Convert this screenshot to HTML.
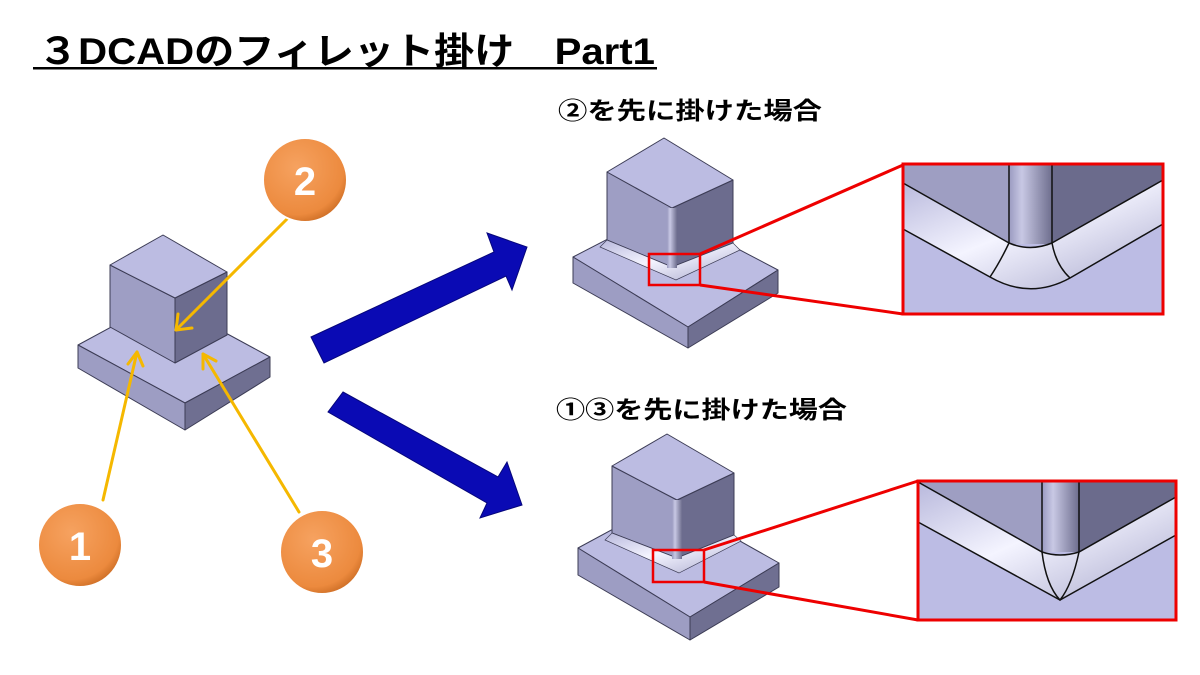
<!DOCTYPE html>
<html><head><meta charset="utf-8"><style>
html,body{margin:0;padding:0;background:#fff;width:1200px;height:675px;overflow:hidden}
svg{display:block}
text{font-family:"Liberation Sans","Noto Sans CJK JP",sans-serif;font-weight:bold}
</style></head><body>
<svg width="1200" height="675" viewBox="0 0 1200 675" xmlns="http://www.w3.org/2000/svg">
<defs>
<radialGradient id="og" cx="0.4" cy="0.35" r="0.7">
<stop offset="0" stop-color="#f6a260"/><stop offset="0.8" stop-color="#ec8a3e"/><stop offset="1" stop-color="#c96a22"/>
</radialGradient>
<linearGradient id="fil" x1="0" y1="0" x2="1" y2="1">
<stop offset="0" stop-color="#b8b8dc"/><stop offset="0.45" stop-color="#f4f4ff"/><stop offset="1" stop-color="#a8a8cc"/>
</linearGradient>
<linearGradient id="col" x1="0" y1="0" x2="1" y2="0">
<stop offset="0" stop-color="#9a9ac0"/><stop offset="0.3" stop-color="#c8c8e4"/><stop offset="1" stop-color="#6e6e8e"/>
</linearGradient>
</defs>

<!-- Title -->
<text x="38" y="64" font-size="37" textLength="617" lengthAdjust="spacingAndGlyphs" fill="#000">３DCADのフィレット掛け　Part1</text>
<rect x="33" y="67" width="624" height="2.5" fill="#000"/>

<text x="558" y="119" font-size="24" textLength="264" lengthAdjust="spacingAndGlyphs">②を先に掛けた場合</text>
<text x="556" y="418" font-size="24" textLength="291" lengthAdjust="spacingAndGlyphs">①③を先に掛けた場合</text>

<!-- Left model -->
<g stroke="#3c3c55" stroke-width="1" stroke-linejoin="round">
<polygon points="78,345 163,299 270,357 185,403" fill="#bcbce2"/>
<polygon points="78,345 185,403 185,430 78,368" fill="#9d9dc3"/>
<polygon points="185,403 270,357 270,377 185,430" fill="#6f6f91"/>
<polygon points="110,265 175,298 175,363 110,327" fill="#9e9ec4"/>
<polygon points="175,298 227,272 227,335 175,363" fill="#6c6c8e"/>
<polygon points="110,265 163,235 227,272 175,298" fill="#bcbce2"/>
</g>

<!-- yellow arrows -->
<g stroke="#f5b800" stroke-width="3" fill="none" stroke-linecap="round" stroke-linejoin="round">
<line x1="292" y1="214" x2="176" y2="330"/><polyline points="178,314 176,330 192,328"/>
<line x1="103" y1="500" x2="137" y2="352"/><polyline points="128,364 137,352 143,366"/>
<line x1="299" y1="512" x2="203" y2="354"/><polyline points="203,369 203,354 216,361"/>
</g>

<!-- circles -->
<g>
<circle cx="305" cy="180" r="42" fill="url(#og)" stroke="#fff" stroke-width="2"/>
<text x="305" y="195" font-size="40" fill="#fff" text-anchor="middle">2</text>
<circle cx="80" cy="545" r="42" fill="url(#og)" stroke="#fff" stroke-width="2"/>
<text x="80" y="560" font-size="40" fill="#fff" text-anchor="middle">1</text>
<circle cx="322" cy="552" r="42" fill="url(#og)" stroke="#fff" stroke-width="2"/>
<text x="322" y="567" font-size="40" fill="#fff" text-anchor="middle">3</text>
</g>

<!-- blue arrows -->
<g fill="#0a0ab4" stroke="#06067a" stroke-width="1">
<polygon points="311,337 494,252 487,233 527,247 512,290 506,276 324,363"/>
<polygon points="343,392 498,477 507,462 522,505 480,518 487,503 328,412"/>
</g>

<!-- Top right model -->
<g stroke="#3c3c55" stroke-width="1" stroke-linejoin="round">
<polygon points="573,257 664,210 778,270 688,327" fill="#bcbce2"/>
<polygon points="573,257 688,327 688,348 573,283" fill="#9d9dc3"/>
<polygon points="688,327 778,270 778,293 688,348" fill="#6f6f91"/>
<polygon points="607,172 672,208 672,267 607,240" fill="#9e9ec4"/>
<polygon points="672,208 733,180 733,243 672,267" fill="#6c6c8e"/>
<polygon points="607,172 664,138 733,180 672,208" fill="#bcbce2"/>
</g>
<polygon points="607,240 672,267 733,243 740,250 676,280 600,247" fill="url(#fil)" stroke="#3c3c55" stroke-width="0.7"/>
<rect x="667" y="208" width="10" height="60" fill="url(#col)"/>
<rect x="649" y="254" width="51" height="31" fill="none" stroke="#e00" stroke-width="2.5"/>
<line x1="700" y1="254" x2="903" y2="165" stroke="#e00" stroke-width="3"/>
<line x1="700" y1="285" x2="903" y2="314" stroke="#e00" stroke-width="3"/>

<!-- Big zoom 1 -->
<g>
<rect x="903" y="164" width="260" height="150" fill="#bcbce4"/>
<polygon points="903,164 1009,164 1009,243 903,183" fill="#9e9ec2"/>
<polygon points="1052,164 1163,164 1163,180 1052,243" fill="#6b6b8c"/>
<rect x="1009" y="164" width="43" height="80" fill="url(#col)"/>
<path d="M903,183 L1009,243 Q1030,252 1052,243 L1163,180 L1163,224 L1070,278 Q1030,300 990,277 L903,229 Z" fill="url(#fil)"/>
<g fill="none" stroke="#111" stroke-width="1.5">
<path d="M903,183 L1009,243 Q1030,252 1052,243 L1163,180"/>
<path d="M903,229 L990,277 Q1030,300 1070,278 L1163,224"/>
<line x1="1009" y1="164" x2="1009" y2="243"/><line x1="1052" y1="164" x2="1052" y2="243"/>
<path d="M1009,243 Q1000,262 990,277"/><path d="M1052,243 Q1056,265 1070,278"/>
</g>
<rect x="903" y="164" width="260" height="150" fill="none" stroke="#e00" stroke-width="3"/>
</g>

<!-- Bottom right model -->
<g stroke="#3c3c55" stroke-width="1" stroke-linejoin="round">
<polygon points="578,548 667,500 779,563 690,617" fill="#bcbce2"/>
<polygon points="578,548 690,617 690,640 578,575" fill="#9d9dc3"/>
<polygon points="690,617 779,563 779,587 690,640" fill="#6f6f91"/>
<polygon points="612,466 677,500 677,558 612,533" fill="#9e9ec4"/>
<polygon points="677,500 734,473 734,535 677,558" fill="#6c6c8e"/>
<polygon points="612,466 667,434 734,473 677,500" fill="#bcbce2"/>
</g>
<polygon points="612,533 677,558 734,535 741,541 679,573 605,540" fill="url(#fil)" stroke="#3c3c55" stroke-width="0.7"/>
<rect x="672" y="500" width="10" height="59" fill="url(#col)"/>
<rect x="653" y="550" width="51" height="32" fill="none" stroke="#e00" stroke-width="2.5"/>
<line x1="704" y1="550" x2="918" y2="481" stroke="#e00" stroke-width="3"/>
<line x1="704" y1="582" x2="918" y2="620" stroke="#e00" stroke-width="3"/>

<!-- Big zoom 2 -->
<g>
<rect x="918" y="481" width="258" height="139" fill="#bcbce4"/>
<polygon points="918,481 1042,481 1042,552 918,482" fill="#9e9ec2"/>
<polygon points="1079,481 1176,481 1176,497 1079,552" fill="#6b6b8c"/>
<rect x="1042" y="481" width="37" height="71" fill="url(#col)"/>
<path d="M918,482 L1042,552 Q1060,558 1079,552 L1176,497 L1176,535 L1060,600 L918,522 Z" fill="url(#fil)"/>
<g fill="none" stroke="#111" stroke-width="1.5">
<path d="M918,482 L1042,552 Q1060,558 1079,552 L1176,497"/>
<path d="M918,522 L1060,600 L1176,535"/>
<line x1="1042" y1="481" x2="1042" y2="552"/><line x1="1079" y1="481" x2="1079" y2="552"/>
<path d="M1042,552 Q1046,585 1060,600 Q1072,585 1079,552"/>
</g>
<rect x="918" y="481" width="258" height="139" fill="none" stroke="#e00" stroke-width="3"/>
</g>
</svg>
</body></html>
